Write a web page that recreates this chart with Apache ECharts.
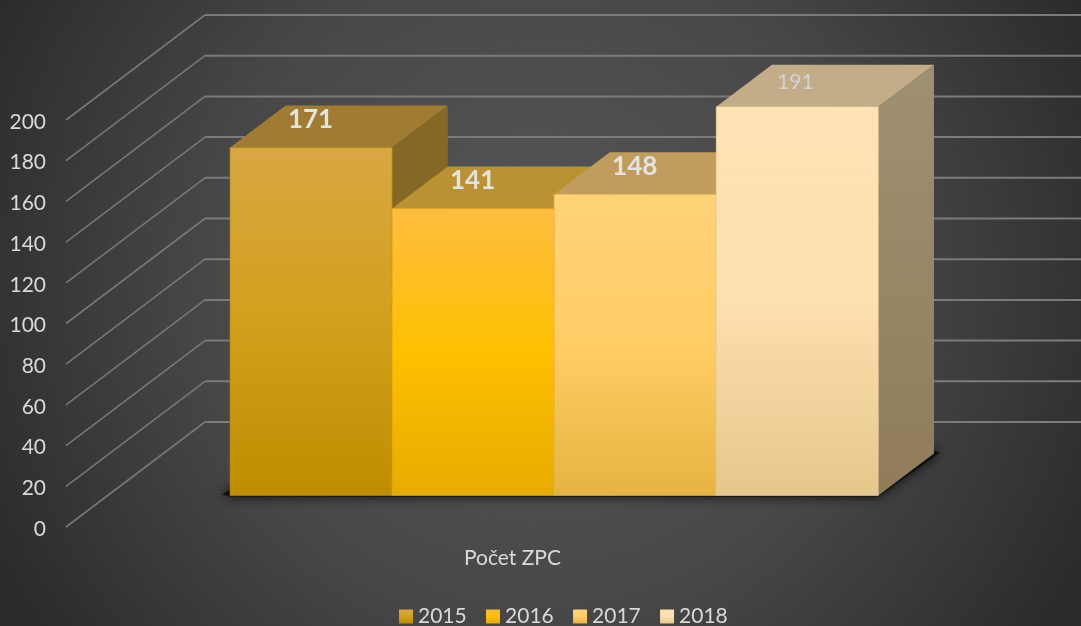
<!DOCTYPE html>
<html>
<head>
<meta charset="utf-8">
<style>html,body{margin:0;padding:0;background:#333}#c{width:1081px;height:626px}</style>
<script src="https://cdn.jsdelivr.net/npm/echarts@6/dist/echarts.min.js"></script>
</head>
<body>
<div id="c"></div>
<script>
var categories = ['Počet ZPC'];
var years = ['2015', '2016', '2017', '2018'];
var values2015 = [171];
var values2016 = [141];
var values2017 = [148];
var values2018 = [191];
var yTicks = [0, 20, 40, 60, 80, 100, 120, 140, 160, 180, 200];

var allValues = [values2015, values2016, values2017, values2018];
var DEPTH_X = 139, DEPTH_Y = 105, NEAR = 0.3, FAR = 0.7;
var BAR_GROUP = 0.726;
var FONT = 'Lato, "Open Sans", sans-serif';

function grad(stops) {
  return new echarts.graphic.LinearGradient(0, 0, 0, 1, stops.map(function (c, i) {
    return { offset: i / (stops.length - 1), color: c };
  }));
}
var looks = [
  { front: grad(['#d8a742', '#d3a01c', '#c08c00']), edge: '#b58400', top: '#a07c33', side: grad(['#866826', '#866826']), label: '#e3e3e3', size: 26, weight: 'bold' },
  { front: grad(['#fdbd40', '#ffc000', '#e8ab00']), edge: '#e8ae10', top: '#ba9233', side: grad(['#8f7020', '#8f7020']), label: '#e3e3e3', size: 26, weight: 'bold' },
  { front: grad(['#ffd277', '#ffcd66', '#e5b440']), edge: '#e8bb55', top: '#c09d5c', side: grad(['#a08a50', '#a08a50']), label: '#e3e3e3', size: 26, weight: 'bold' },
  { front: grad(['#ffe3b4', '#fedfae', '#e5c78d']), edge: '#f0d49e', top: '#c3ac88', side: grad(['#a09072', '#907c59']), label: '#d4d4d4', size: 21, weight: 'normal' }
];

function barRect(api, idx) {
  var band = api.size([1, 0])[0];
  var groupW = band * BAR_GROUP;
  var w = groupW / 4;
  var c = api.coord([0, 0]);
  var left = c[0] + DEPTH_X * NEAR - groupW / 2 + idx * w;
  return { left: left, w: w, base: c[1] - DEPTH_Y * NEAR, dx: DEPTH_X * (FAR - NEAR), dy: DEPTH_Y * (FAR - NEAR) };
}

function barSeries(idx) {
  return {
    type: 'custom', name: years[idx], z: 5 + idx,
    data: allValues[idx].map(function (v, i) { return [i, v]; }),
    encode: { x: 0, y: 1 },
    itemStyle: { color: looks[idx].front },
    renderItem: function (params, api) {
      var r = barRect(api, idx);
      var top = api.coord([0, api.value(1)])[1] - DEPTH_Y * NEAR;
      var L = looks[idx], x = r.left, w = r.w, dx = r.dx, dy = r.dy, base = r.base;
      return {
        type: 'group', children: [
          { type: 'polygon', shape: { points: [[x + w, top], [x + w + dx, top - dy], [x + w + dx, base - dy], [x + w, base]] }, style: { fill: L.side } },
          { type: 'polygon', shape: { points: [[x, top], [x + dx, top - dy], [x + w + dx, top - dy], [x + w, top]] }, style: { fill: L.top } },
          { type: 'rect', shape: { x: x, y: top, width: w, height: base - top }, style: { fill: L.front, stroke: L.edge, lineWidth: 0.6 } },
          { type: 'text', x: x + w / 2 - (idx === 3 ? 2 : 0.5), y: top - 28 + (idx === 3 ? 3 : 0), style: { text: String(api.value(1)), fill: L.label, font: L.weight + ' ' + L.size + 'px ' + FONT, align: 'center', verticalAlign: 'middle' } }
        ]
      };
    }
  };
}

var option = {
  animation: false,
  backgroundColor: new echarts.graphic.RadialGradient(0.5, 0.45, 0.98, [
    { offset: 0, color: '#585858' }, { offset: 0.55, color: '#474747' }, { offset: 1, color: '#2b2b2b' }
  ]),
  grid: { left: 66, top: 120, width: 893, height: 407 },
  legend: {
    data: years, left: 399, top: 606, padding: 0, itemWidth: 14, itemHeight: 14, itemGap: 19.3, icon: 'rect',
    textStyle: { color: '#d9d9d9', fontSize: 21, fontFamily: FONT }
  },
  xAxis: {
    type: 'category', data: categories,
    axisLine: { show: false }, axisTick: { show: false }, splitLine: { show: false },
    axisLabel: { color: '#d9d9d9', fontSize: 21, fontFamily: FONT, margin: 21 }
  },
  yAxis: {
    type: 'value', min: 0, max: 200, interval: 20,
    axisLine: { show: false }, axisTick: { show: false }, splitLine: { show: false },
    axisLabel: { color: '#d9d9d9', fontSize: 21, fontFamily: FONT, margin: 20, verticalAlign: 'top', lineHeight: 4 }
  },
  series: [
    {
      type: 'custom', name: 'grid', z: 1, silent: true, data: yTicks,
      renderItem: function (params, api) {
        var p = api.coord([0, api.value(0)]);
        var x0 = params.coordSys.x;
        var px = x0 + DEPTH_X, py = p[1] - DEPTH_Y;
        return {
          type: 'group', children: [
            { type: 'line', shape: { x1: x0, y1: p[1], x2: px, y2: py }, style: { stroke: '#777777', lineWidth: 1.6 } },
            { type: 'line', shape: { x1: px, y1: py, x2: 1081, y2: py }, style: { stroke: '#7b7b7b', lineWidth: 2 } }
          ]
        };
      },
      encode: { y: 0 }
    },
    {
      type: 'custom', name: 'floor', z: 3, silent: true, data: [0],
      renderItem: function (params, api) {
        var a = barRect(api, 0), b = barRect(api, 3);
        var xl = a.left, xr = b.left + b.w, base = a.base;
        return {
          type: 'polygon',
          shape: { points: [[xl - 8, base - 1], [xl, base + 1], [xr, base + 1], [xr + a.dx + 6, base - a.dy - 1], [xr + a.dx, base - a.dy - 3], [xl + a.dx, base - a.dy]] },
          style: { fill: 'rgba(10,10,10,0.85)', shadowBlur: 12, shadowColor: 'rgba(0,0,0,1)' }
        };
      }
    },
    barSeries(0), barSeries(1), barSeries(2), barSeries(3)
  ]
};
var chart = echarts.init(document.getElementById('c'), null, { renderer: 'canvas' });
chart.setOption(option);
</script>
</body>
</html>
